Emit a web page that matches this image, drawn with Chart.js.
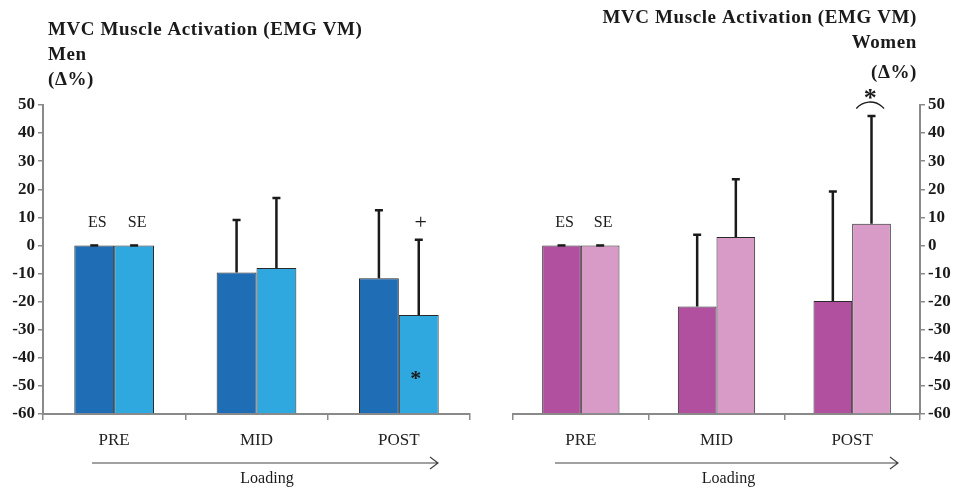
<!DOCTYPE html>
<html>
<head>
<meta charset="utf-8">
<script src="https://cdn.jsdelivr.net/npm/chart.js@4.4.1/dist/chart.umd.min.js"></script>
<style>
  html, body { margin: 0; padding: 0; background: #fff; }
  #wrap { position: relative; width: 959px; height: 489px; overflow: hidden; }
  canvas { position: absolute; top: 0; }
  #men { left: 0; }
  #women { left: 480px; }
</style>
</head>
<body>
<div id="wrap">
  <canvas id="men" width="480" height="489"></canvas>
  <canvas id="women" width="479" height="489"></canvas>
</div>
<script>
// data (Δ% change, upper SD only)
const phases = ['PRE', 'MID', 'POST'];
const yTicks = [50, 40, 30, 20, 10, 0, -10, -20, -30, -40, -50, -60];

const menES = [0, -9.6, -11.7];
const menSE = [0, -8.0, -24.8];
const menESerr = [0, 18.7, 24.2];
const menSEerr = [0, 24.9, 26.8];

const womenES = [0, -21.7, -19.8];
const womenSE = [0, 3.0, 7.7];
const womenESerr = [0, 25.5, 39.0];
const womenSEerr = [0, 20.6, 38.4];

const serif = '"Liberation Serif", "DejaVu Serif", serif';

// error bars (upper whisker + cap), drawn from the bar meta
const errorBars = {
  id: 'errorBars',
  afterDatasetsDraw(chart) {
    const ctx = chart.ctx;
    const y = chart.scales.y;
    ctx.save();
    ctx.strokeStyle = '#1a1a1a';
    ctx.lineWidth = 2.5;
    chart.data.datasets.forEach((ds, i) => {
      const meta = chart.getDatasetMeta(i);
      meta.data.forEach((bar, j) => {
        const top = ds.data[j] + ds.err[j];
        const py = y.getPixelForValue(top);
        ctx.beginPath();
        ctx.moveTo(bar.x, y.getPixelForValue(ds.data[j]));
        ctx.lineTo(bar.x, py);
        ctx.moveTo(bar.x - 4, py);
        ctx.lineTo(bar.x + 4, py);
        ctx.stroke();
      });
    });
    ctx.restore();
  }
};

// titles, ES/SE labels, markers and the "Loading" arrow
const notes = {
  id: 'notes',
  afterDraw(chart, args, o) {
    const ctx = chart.ctx;
    const y = chart.scales.y;
    const m0 = chart.getDatasetMeta(0).data;
    const m1 = chart.getDatasetMeta(1).data;
    ctx.save();
    ctx.fillStyle = '#1a1a1a';
    ctx.textBaseline = 'middle';

    ctx.font = 'bold 19px ' + serif;
    ctx.letterSpacing = '0.6px';
    ctx.textAlign = o.titleAlign;
    o.titles.forEach(t => ctx.fillText(t[0], o.titleX, t[1]));
    ctx.letterSpacing = '0px';

    ctx.font = '16px ' + serif;
    ctx.textAlign = 'center';
    ctx.fillText('ES', m0[0].x + 3, y.getPixelForValue(8));
    ctx.fillText('SE', m1[0].x + 3, y.getPixelForValue(8));

    // arrow
    const ay = 463;
    ctx.strokeStyle = '#444';
    ctx.lineWidth = 1.2;
    ctx.beginPath();
    ctx.moveTo(o.arrow[0], ay);
    ctx.lineTo(o.arrow[1], ay);
    ctx.moveTo(o.arrow[1] - 8, ay - 6);
    ctx.lineTo(o.arrow[1], ay);
    ctx.lineTo(o.arrow[1] - 8, ay + 6);
    ctx.stroke();
    ctx.fillText('Loading', (o.arrow[0] + o.arrow[1]) / 2 + 2, 479);

    if (o.markers === 'men') {
      ctx.font = '22px ' + serif;
      ctx.fillText('+', m1[2].x + 2, y.getPixelForValue(8));
      ctx.font = 'bold 22px ' + serif;
      ctx.fillText('*', m1[2].x - 3, y.getPixelForValue(-47.5));
    } else {
      ctx.font = 'bold 26px ' + serif;
      const cx = (m0[2].x + m1[2].x) / 2 + 18;
      ctx.fillText('*', cx, 99);
      ctx.beginPath();
      ctx.lineWidth = 1.3;
      ctx.strokeStyle = '#1a1a1a';
      ctx.arc(cx, 120, 18, Math.PI * 1.22, Math.PI * 1.78);
      ctx.stroke();
    }
    ctx.restore();
  }
};

function makeChart(id, esData, seData, esErr, seErr, colors, side, noteOpts, pad) {
  return new Chart(document.getElementById(id), {
    type: 'bar',
    data: {
      labels: phases,
      datasets: [
        { label: 'ES', data: esData, err: esErr, base: -60, backgroundColor: colors[0],
          borderColor: '#2a2a2a', borderWidth: 1, barPercentage: 1, categoryPercentage: pad.cat },
        { label: 'SE', data: seData, err: seErr, base: -60, backgroundColor: colors[1],
          borderColor: '#2a2a2a', borderWidth: 1, barPercentage: 1, categoryPercentage: pad.cat }
      ]
    },
    options: {
      responsive: false,
      animation: false,
      layout: { padding: { top: 105, left: pad.left, right: pad.right, bottom: 0 } },
      plugins: { legend: { display: false }, tooltip: { enabled: false }, notes: noteOpts },
      scales: {
        x: {
          afterFit(s) { s.height = 75; },
          border: { color: '#8a8a8a', width: 2 },
          grid: { display: true, offset: true, drawOnChartArea: false, drawTicks: true,
                  tickLength: 6, color: '#8a8a8a', lineWidth: 1.5 },
          ticks: { color: '#222', padding: 10, font: { family: serif, size: 17 } }
        },
        y: {
          position: side,
          min: -60, max: 50,
          afterFit(s) { s.width = pad.axis; },
          afterBuildTicks(s) { s.ticks = yTicks.map(v => ({ value: v })); },
          border: { color: '#8a8a8a', width: 2 },
          grid: { drawOnChartArea: false, drawTicks: true, tickLength: 5, color: '#8a8a8a', lineWidth: 1.5 },
          ticks: { color: '#1a1a1a', padding: 3, font: { family: serif, size: 17, weight: 'bold' } }
        }
      }
    },
    plugins: [errorBars, notes]
  });
}

makeChart('men', menES, menSE, menESerr, menSEerr, ['#1f6db5', '#2ea8de'], 'left',
  { titleAlign: 'left', titleX: 48, titles: [['MVC Muscle Activation (EMG VM)', 30], ['Men', 55], ['(Δ%)', 80]],
    arrow: [92, 438], markers: 'men' },
  { left: 0, right: 10, axis: 43, cat: 0.56 });

makeChart('women', womenES, womenSE, womenESerr, womenSEerr, ['#b0509f', '#d89ac6'], 'right',
  { titleAlign: 'right', titleX: 437, titles: [['MVC Muscle Activation (EMG VM)', 18], ['Women', 43], ['(Δ%)', 73]],
    arrow: [75, 418], markers: 'women' },
  { left: 33, right: 0, axis: 39, cat: 0.57 });
</script>
</body>
</html>
